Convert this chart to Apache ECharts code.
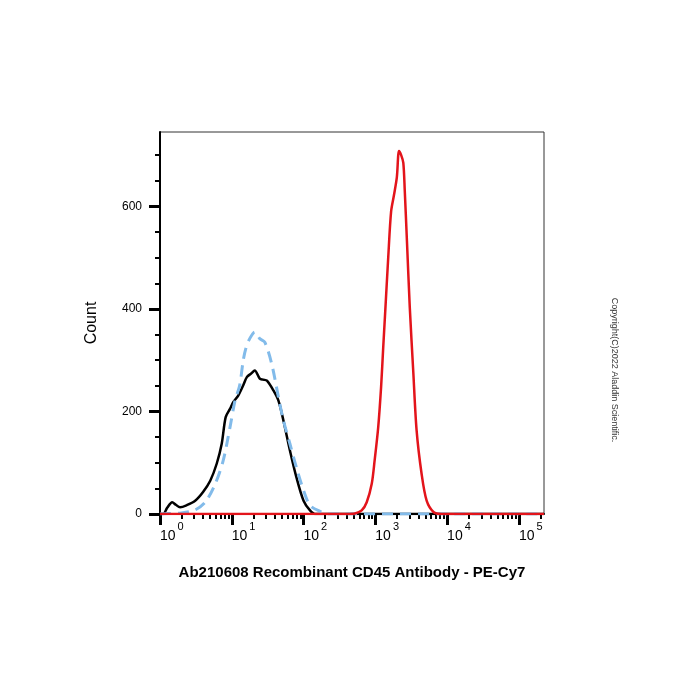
<!DOCTYPE html>
<html>
<head>
<meta charset="utf-8">
<script src="https://cdn.jsdelivr.net/npm/echarts@6/dist/echarts.min.js"></script>
<style>
  html, body { margin: 0; padding: 0; background: #fff; }
  #chart { width: 700px; height: 700px; }
</style>
</head>
<body>
<div id="chart"></div>
<script>
// x values are log10 of fluorescence intensity, y values are event counts
const blankX = [0, 0.046, 0.1, 0.17, 0.22, 0.28, 0.37, 0.49, 0.6, 0.7, 0.79, 0.86, 0.915, 0.975, 1.02, 1.09, 1.16, 1.21, 1.27, 1.32, 1.39, 1.44, 1.49, 1.58, 1.65, 1.72, 1.81, 1.9, 2.0, 2.09, 2.16, 5.35]
const blankY = [0, 0, 12, 23, 18, 13, 17, 26, 43, 65, 98, 137, 189, 205, 218, 231, 251, 267, 274, 280, 264, 262, 260, 241, 221, 182, 124, 72, 26, 7, 0, 0]

const isotypeX = [0, 0.12, 0.3, 0.49, 0.63, 0.77, 0.88, 0.975, 1.045, 1.11, 1.16, 1.2, 1.25, 1.32, 1.39, 1.46, 1.556, 1.65, 1.72, 1.81, 1.9, 2.0, 2.09, 2.23, 2.34, 5.35]
const isotypeY = [0, 1, 2, 8, 23, 59, 104, 169, 221, 251, 300, 325, 342, 355, 342, 335, 293, 228, 182, 137, 91, 46, 17, 5, 0, 0]

const stainedX = [0, 2.6, 2.716, 2.81, 2.88, 2.95, 2.99, 3.04, 3.08, 3.11, 3.14, 3.18, 3.22, 3.26, 3.3, 3.33, 3.36, 3.39, 3.41, 3.44, 3.48, 3.53, 3.575, 3.645, 3.715, 3.81, 3.92, 5.35]
const stainedY = [0, 0, 1, 7, 23, 59, 104, 169, 247, 325, 400, 501, 590, 622, 657, 708, 700, 685, 631, 534, 403, 274, 163, 78, 26, 4, 0, 0]

const decades = [0, 1, 2, 3, 4, 5]
const yMajor = [0, 200, 400, 600]
const yMinor = [50, 100, 150, 250, 300, 350, 450, 500, 550, 650, 700]

const xMinor = []
decades.forEach(d => {
	for (let k = 2; k <= 9; k++) {
		const v = d + Math.log10(k)
		if (v < 5.35) xMinor.push(v)
	}
})

const pairs = (xs, ys) => xs.map((x, i) => [x, ys[i]])

const chart = echarts.init(document.getElementById('chart'))

const option = {
	backgroundColor: '#fff',
	animation: false,
	grid: {
		left: 160,
		right: 156,
		top: 132,
		bottom: 186,
		show: true,
		borderColor: '#333',
		borderWidth: 1,
	},
	xAxis: [
		{
			type: 'value',
			min: 0,
			max: 5.35,
			position: 'bottom',
			splitLine: { show: false },
			axisLine: { lineStyle: { color: '#000', width: 2 } },
			axisTick: {
				customValues: decades,
				length: 11,
				lineStyle: { color: '#000', width: 3 },
			},
			axisLabel: {
				customValues: decades,
				margin: 7,
				align: 'left',
				color: '#000',
				formatter: (v) => '{b|10}{s|' + v + '}',
				rich: {
					b: { fontSize: 14, fontFamily: 'Liberation Sans', lineHeight: 30, color: '#000' },
					s: { fontSize: 11, fontFamily: 'Liberation Sans', verticalAlign: 'top', padding: [0, 0, 0, 2], color: '#000' },
				},
			},
		},
		{
			type: 'value',
			min: 0,
			max: 5.35,
			position: 'bottom',
			splitLine: { show: false },
			axisLine: { show: false },
			axisTick: {
				customValues: xMinor,
				length: 5,
				lineStyle: { color: '#000', width: 2 },
			},
			axisLabel: { show: false },
		},
	],
	yAxis: [
		{
			type: 'value',
			min: 0,
			max: 745,
			splitLine: { show: false },
			axisLine: { show: true, lineStyle: { color: '#000', width: 2 } },
			axisTick: {
				show: true,
				customValues: yMajor,
				length: 11,
				lineStyle: { color: '#000', width: 3 },
			},
			axisLabel: {
				customValues: yMajor,
				margin: 18,
				fontSize: 12,
				fontFamily: 'Liberation Sans',
				color: '#000',
			},
		},
		{
			type: 'value',
			min: 0,
			max: 745,
			position: 'left',
			splitLine: { show: false },
			axisLine: { show: false },
			axisTick: {
				show: true,
				customValues: yMinor,
				length: 5,
				lineStyle: { color: '#000', width: 2 },
			},
			axisLabel: { show: false },
		},
	],
	series: [
		{
			type: 'line',
			data: pairs(blankX, blankY),
			showSymbol: false,
			smooth: 0.3,
			lineStyle: { color: '#000', width: 2.5 },
		},
		{
			type: 'line',
			data: pairs(isotypeX, isotypeY),
			showSymbol: false,
			smooth: 0.3,
			lineStyle: { color: '#82bbea', width: 3, type: [11, 7] },
		},
		{
			type: 'line',
			data: pairs(stainedX, stainedY),
			showSymbol: false,
			smooth: 0.3,
			lineStyle: { color: '#e3141b', width: 2.5 },
		},
	],
	graphic: [
		{
			type: 'text',
			x: 92,
			y: 323,
			rotation: Math.PI / 2,
			style: {
				text: 'Count',
				fontSize: 16,
				fontFamily: 'Liberation Sans',
				fill: '#000',
				align: 'center',
				verticalAlign: 'middle',
			},
		},
		{
			type: 'text',
			x: 352,
			y: 573,
			style: {
				text: 'Ab210608 Recombinant CD45 Antibody - PE-Cy7',
				fontSize: 15,
				fontWeight: 'bold',
				fontFamily: 'Liberation Sans',
				fill: '#000',
				align: 'center',
				verticalAlign: 'middle',
			},
		},
		{
			type: 'text',
			x: 614,
			y: 370,
			rotation: -Math.PI / 2,
			style: {
				text: 'Copyright(C)2022 Aladdin Scientific.',
				fontSize: 9,
				fontFamily: 'Liberation Sans',
				fill: '#333',
				align: 'center',
				verticalAlign: 'middle',
			},
		},
	],
}

chart.setOption(option)
</script>
</body>
</html>
